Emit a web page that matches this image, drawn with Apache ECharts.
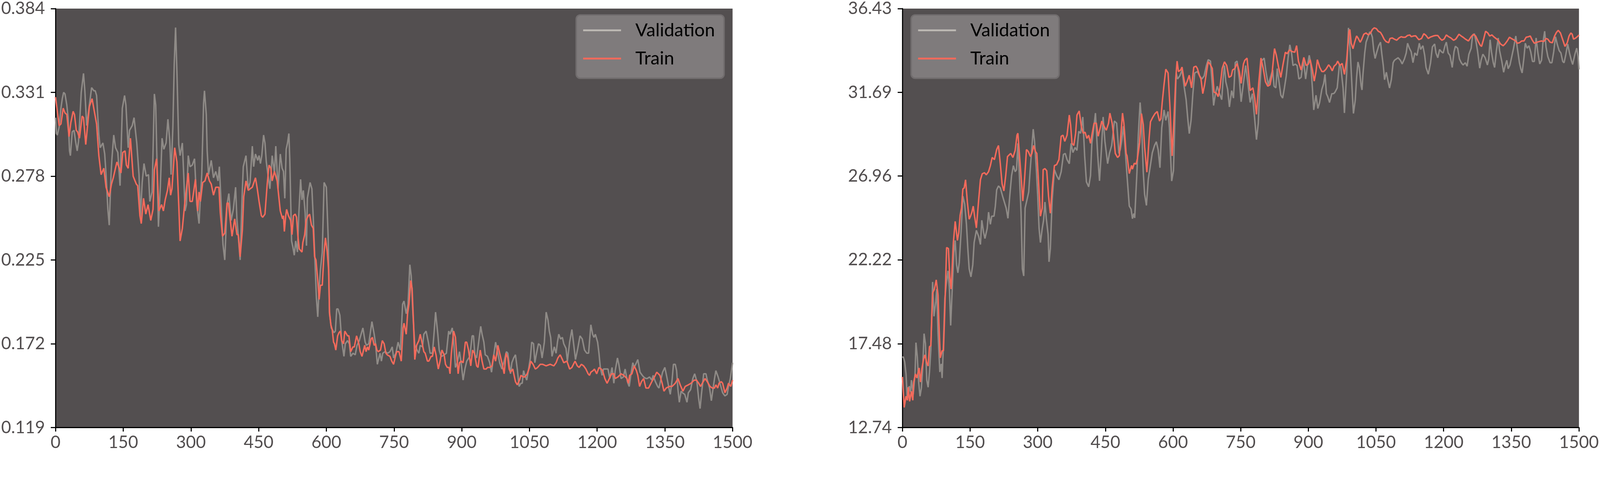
<!DOCTYPE html>
<html>
<head>
<meta charset="utf-8">
<style>
html,body{margin:0;padding:0;background:#ffffff;overflow:hidden;}
#chart{position:absolute;left:0;top:0;}
</style>
<script src="https://cdn.jsdelivr.net/npm/echarts@6/dist/echarts.min.js"></script>
</head>
<body>
<div id="chart"></div>
<script>
// ---------- tick labels ----------
const xTicks = [0,150,300,450,600,750,900,1050,1200,1350,1500];
const lossTicks = [0.119,0.172,0.225,0.278,0.331,0.384];
const accTicks = [12.74,17.48,22.22,26.96,31.69,36.43];
const seriesNames = ['Validation','Train'];

// ---------- left panel: loss  [epoch, value] ----------
const lossValidation = [[0,0.315],[2,0.305],[4,0.304],[8,0.309],[12,0.321],[15,0.327],[18,0.331],[21,0.330],[25,0.323],[28,0.315],[31,0.294],[33,0.291],[37,0.306],[41,0.307],[45,0.299],[48,0.294],[51,0.300],[54,0.315],[57,0.331],[62,0.343],[65,0.332],[69,0.310],[75,0.323],[80,0.334],[85,0.332],[88,0.332],[91,0.329],[96,0.304],[99,0.296],[105,0.299],[109,0.292],[112,0.279],[116,0.257],[119,0.247],[123,0.279],[125,0.289],[129,0.304],[133,0.296],[138,0.293],[143,0.272],[148,0.321],[153,0.329],[156,0.323],[161,0.296],[164,0.307],[170,0.310],[174,0.315],[180,0.299],[185,0.279],[188,0.252],[192,0.274],[196,0.286],[201,0.278],[206,0.279],[209,0.262],[214,0.268],[219,0.330],[222,0.323],[228,0.246],[232,0.270],[236,0.302],[240,0.295],[245,0.299],[249,0.314],[253,0.301],[256,0.279],[260,0.309],[263,0.349],[266,0.372],[269,0.344],[273,0.298],[276,0.291],[281,0.299],[284,0.279],[287,0.256],[290,0.260],[294,0.291],[298,0.284],[303,0.285],[308,0.289],[313,0.260],[318,0.248],[321,0.265],[324,0.279],[328,0.324],[330,0.332],[334,0.317],[336,0.294],[339,0.279],[345,0.288],[350,0.277],[355,0.281],[360,0.275],[363,0.284],[367,0.260],[371,0.235],[375,0.225],[380,0.260],[384,0.267],[389,0.250],[394,0.257],[399,0.271],[402,0.250],[405,0.240],[409,0.225],[414,0.270],[416,0.284],[422,0.291],[427,0.270],[431,0.274],[436,0.297],[439,0.284],[443,0.292],[448,0.288],[451,0.291],[454,0.286],[457,0.291],[461,0.304],[464,0.299],[467,0.287],[472,0.276],[475,0.270],[480,0.291],[485,0.280],[488,0.297],[493,0.270],[498,0.292],[502,0.283],[505,0.281],[508,0.264],[511,0.295],[514,0.299],[517,0.305],[519,0.289],[523,0.237],[526,0.233],[529,0.228],[532,0.237],[536,0.230],[539,0.254],[543,0.276],[546,0.263],[549,0.269],[553,0.255],[556,0.234],[558,0.264],[564,0.274],[568,0.270],[571,0.252],[574,0.230],[578,0.201],[581,0.189],[584,0.207],[587,0.219],[591,0.230],[595,0.274],[600,0.271],[604,0.240],[607,0.191],[611,0.182],[617,0.179],[620,0.180],[623,0.194],[626,0.194],[630,0.190],[634,0.174],[639,0.164],[642,0.172],[647,0.174],[651,0.172],[654,0.164],[659,0.166],[664,0.165],[668,0.171],[673,0.174],[676,0.177],[681,0.182],[686,0.173],[689,0.171],[694,0.172],[701,0.186],[706,0.178],[709,0.172],[713,0.159],[719,0.166],[722,0.161],[725,0.166],[730,0.167],[736,0.166],[741,0.167],[746,0.170],[749,0.163],[754,0.166],[759,0.173],[764,0.168],[769,0.197],[772,0.199],[777,0.191],[781,0.197],[785,0.222],[788,0.215],[792,0.190],[796,0.171],[801,0.168],[805,0.166],[808,0.171],[813,0.170],[816,0.178],[821,0.180],[826,0.173],[830,0.166],[835,0.166],[839,0.180],[842,0.192],[847,0.178],[850,0.168],[853,0.165],[856,0.164],[861,0.165],[866,0.166],[871,0.180],[874,0.178],[879,0.182],[882,0.174],[886,0.157],[890,0.160],[895,0.167],[899,0.159],[903,0.149],[907,0.156],[911,0.161],[918,0.164],[923,0.177],[926,0.177],[929,0.165],[933,0.163],[937,0.172],[942,0.183],[945,0.178],[949,0.173],[952,0.165],[957,0.164],[962,0.160],[966,0.154],[970,0.163],[975,0.173],[980,0.166],[984,0.160],[989,0.156],[994,0.161],[999,0.167],[1002,0.166],[1005,0.159],[1008,0.153],[1011,0.160],[1015,0.163],[1019,0.165],[1023,0.156],[1027,0.145],[1031,0.147],[1034,0.147],[1037,0.155],[1040,0.152],[1044,0.149],[1047,0.154],[1052,0.163],[1055,0.173],[1059,0.172],[1062,0.160],[1065,0.165],[1070,0.172],[1074,0.171],[1078,0.163],[1083,0.173],[1087,0.192],[1091,0.187],[1094,0.180],[1097,0.176],[1100,0.164],[1105,0.170],[1109,0.166],[1112,0.173],[1115,0.178],[1119,0.175],[1123,0.176],[1126,0.172],[1131,0.169],[1134,0.161],[1139,0.173],[1144,0.181],[1147,0.174],[1152,0.162],[1157,0.169],[1162,0.177],[1167,0.175],[1172,0.168],[1177,0.166],[1181,0.166],[1186,0.184],[1190,0.178],[1193,0.176],[1196,0.178],[1201,0.173],[1204,0.166],[1207,0.157],[1211,0.152],[1214,0.156],[1219,0.156],[1224,0.156],[1228,0.150],[1233,0.157],[1237,0.147],[1240,0.155],[1245,0.163],[1248,0.159],[1253,0.150],[1258,0.151],[1262,0.156],[1267,0.148],[1271,0.145],[1275,0.153],[1279,0.160],[1282,0.157],[1287,0.160],[1290,0.162],[1295,0.154],[1300,0.152],[1303,0.151],[1308,0.150],[1311,0.150],[1316,0.151],[1321,0.149],[1324,0.152],[1329,0.148],[1334,0.145],[1337,0.144],[1340,0.148],[1345,0.154],[1350,0.157],[1355,0.150],[1359,0.144],[1362,0.140],[1366,0.149],[1369,0.159],[1373,0.159],[1376,0.155],[1379,0.143],[1382,0.135],[1386,0.142],[1389,0.141],[1394,0.140],[1399,0.135],[1402,0.141],[1407,0.143],[1412,0.150],[1416,0.153],[1421,0.148],[1425,0.137],[1428,0.131],[1431,0.140],[1436,0.153],[1441,0.153],[1444,0.149],[1449,0.144],[1453,0.136],[1457,0.144],[1460,0.150],[1463,0.155],[1468,0.151],[1473,0.146],[1478,0.141],[1483,0.139],[1488,0.140],[1491,0.145],[1495,0.150],[1500,0.160]];

const lossTrain = [[0,0.328],[8,0.310],[12,0.311],[17,0.321],[21,0.318],[25,0.317],[30,0.303],[34,0.312],[39,0.319],[42,0.317],[46,0.307],[49,0.306],[53,0.302],[59,0.316],[62,0.315],[67,0.298],[75,0.322],[81,0.327],[86,0.319],[91,0.311],[96,0.291],[101,0.279],[107,0.283],[112,0.271],[119,0.265],[124,0.273],[128,0.277],[136,0.287],[140,0.284],[145,0.280],[149,0.293],[154,0.294],[157,0.285],[161,0.283],[166,0.302],[172,0.278],[179,0.273],[182,0.272],[187,0.253],[190,0.248],[195,0.264],[200,0.254],[205,0.260],[211,0.250],[216,0.257],[219,0.282],[224,0.289],[229,0.256],[235,0.260],[239,0.256],[243,0.263],[248,0.269],[252,0.277],[255,0.266],[258,0.270],[264,0.296],[269,0.287],[273,0.260],[276,0.237],[281,0.245],[286,0.260],[294,0.280],[298,0.262],[303,0.262],[310,0.276],[315,0.256],[318,0.268],[321,0.262],[326,0.274],[331,0.275],[336,0.280],[341,0.275],[345,0.273],[350,0.266],[355,0.271],[362,0.271],[365,0.255],[370,0.240],[375,0.242],[380,0.261],[383,0.261],[388,0.248],[391,0.240],[397,0.251],[402,0.241],[405,0.241],[409,0.227],[414,0.244],[417,0.265],[422,0.275],[427,0.269],[431,0.270],[436,0.271],[443,0.277],[447,0.270],[451,0.262],[456,0.253],[459,0.252],[464,0.254],[469,0.273],[473,0.285],[477,0.283],[480,0.275],[485,0.281],[491,0.275],[498,0.256],[503,0.251],[505,0.253],[507,0.243],[510,0.253],[512,0.257],[516,0.253],[521,0.250],[524,0.241],[527,0.253],[531,0.254],[534,0.252],[537,0.240],[540,0.232],[546,0.230],[548,0.236],[552,0.241],[555,0.250],[560,0.253],[563,0.254],[567,0.247],[571,0.245],[574,0.227],[577,0.225],[581,0.212],[584,0.200],[587,0.209],[591,0.209],[595,0.230],[598,0.239],[602,0.230],[605,0.219],[607,0.192],[610,0.184],[613,0.181],[616,0.173],[618,0.172],[621,0.168],[625,0.177],[628,0.179],[631,0.180],[634,0.174],[638,0.172],[641,0.180],[647,0.177],[650,0.177],[654,0.167],[659,0.170],[662,0.170],[667,0.177],[672,0.172],[675,0.167],[679,0.164],[685,0.171],[688,0.167],[691,0.170],[694,0.168],[699,0.175],[702,0.176],[706,0.171],[709,0.172],[712,0.168],[715,0.167],[720,0.168],[724,0.174],[728,0.172],[732,0.166],[735,0.165],[741,0.164],[745,0.161],[749,0.159],[753,0.164],[756,0.167],[761,0.167],[766,0.161],[770,0.182],[772,0.185],[777,0.178],[780,0.191],[783,0.197],[787,0.212],[790,0.207],[793,0.186],[796,0.162],[800,0.171],[805,0.174],[808,0.178],[811,0.174],[816,0.167],[819,0.166],[824,0.161],[827,0.161],[832,0.164],[835,0.164],[839,0.170],[843,0.165],[848,0.156],[852,0.161],[856,0.168],[861,0.165],[864,0.159],[868,0.157],[872,0.157],[874,0.153],[877,0.166],[882,0.180],[886,0.176],[889,0.164],[892,0.153],[895,0.160],[899,0.161],[903,0.160],[908,0.173],[911,0.173],[915,0.168],[920,0.158],[924,0.168],[928,0.166],[933,0.158],[936,0.157],[941,0.168],[945,0.161],[949,0.156],[954,0.156],[957,0.157],[962,0.157],[967,0.158],[971,0.165],[975,0.161],[980,0.171],[984,0.166],[989,0.160],[994,0.153],[998,0.166],[1002,0.163],[1005,0.156],[1008,0.154],[1013,0.156],[1016,0.152],[1019,0.148],[1023,0.146],[1028,0.149],[1031,0.152],[1036,0.151],[1040,0.151],[1045,0.153],[1050,0.157],[1053,0.161],[1058,0.159],[1063,0.156],[1068,0.157],[1074,0.159],[1079,0.159],[1087,0.158],[1096,0.159],[1104,0.158],[1109,0.160],[1113,0.163],[1118,0.165],[1123,0.162],[1126,0.160],[1133,0.161],[1139,0.156],[1144,0.157],[1151,0.161],[1156,0.158],[1160,0.157],[1165,0.159],[1170,0.158],[1175,0.156],[1180,0.153],[1183,0.152],[1186,0.154],[1191,0.155],[1194,0.156],[1199,0.153],[1204,0.157],[1209,0.156],[1212,0.155],[1217,0.150],[1222,0.147],[1227,0.150],[1232,0.153],[1237,0.153],[1240,0.150],[1246,0.151],[1253,0.153],[1259,0.152],[1266,0.150],[1269,0.147],[1272,0.152],[1277,0.153],[1282,0.158],[1287,0.155],[1290,0.152],[1294,0.145],[1298,0.148],[1303,0.150],[1308,0.144],[1314,0.144],[1321,0.148],[1327,0.151],[1332,0.154],[1339,0.152],[1344,0.147],[1348,0.142],[1353,0.144],[1360,0.145],[1366,0.145],[1373,0.147],[1379,0.150],[1384,0.146],[1390,0.142],[1395,0.145],[1402,0.146],[1408,0.147],[1415,0.149],[1420,0.149],[1425,0.147],[1429,0.145],[1433,0.147],[1439,0.150],[1444,0.148],[1450,0.145],[1455,0.144],[1460,0.144],[1463,0.146],[1467,0.144],[1470,0.147],[1475,0.148],[1478,0.147],[1483,0.141],[1488,0.144],[1491,0.147],[1496,0.145],[1500,0.149]];

// ---------- right panel: accuracy  [epoch, value] ----------
const accValidation = [[0,16.70],[2,16.74],[5,16.45],[8,15.77],[11,14.28],[15,15.08],[18,14.74],[20,15.42],[24,14.62],[28,15.77],[30,17.54],[33,16.74],[36,15.31],[39,14.51],[42,14.97],[45,16.11],[48,18.05],[51,17.48],[54,15.42],[57,15.02],[60,15.88],[63,17.14],[67,20.97],[70,19.03],[74,19.88],[76,20.57],[79,18.05],[83,15.88],[86,16.34],[88,15.54],[91,17.48],[94,20.00],[97,20.80],[101,21.60],[104,20.69],[107,18.51],[110,20.34],[114,22.63],[117,23.32],[120,21.94],[123,21.49],[126,22.06],[130,23.77],[134,25.83],[138,25.38],[142,24.23],[145,22.86],[148,21.71],[152,21.26],[156,21.94],[159,23.20],[164,23.89],[169,23.55],[173,23.09],[176,24.46],[180,23.77],[183,23.43],[188,24.00],[191,24.92],[195,24.23],[198,24.69],[203,24.69],[206,25.26],[209,26.18],[213,26.40],[217,26.29],[222,25.83],[226,25.49],[230,25.15],[234,24.57],[238,25.83],[242,26.98],[246,27.55],[250,27.21],[253,27.32],[256,28.81],[259,27.21],[263,24.92],[266,21.71],[269,21.31],[272,25.15],[276,25.60],[280,26.06],[283,27.21],[287,28.58],[290,29.61],[293,28.92],[297,27.32],[300,25.83],[303,24.00],[306,23.20],[310,24.00],[313,24.46],[316,25.49],[319,24.57],[323,23.66],[325,22.11],[328,22.86],[332,25.60],[337,27.32],[342,26.98],[347,26.75],[352,27.21],[357,28.18],[361,28.24],[365,27.89],[370,27.66],[374,28.81],[378,28.29],[383,28.58],[387,28.41],[391,29.49],[395,29.38],[400,30.30],[404,28.12],[408,26.63],[413,26.35],[417,26.98],[420,28.81],[424,29.61],[428,30.52],[433,28.12],[437,26.69],[441,28.35],[445,30.30],[449,28.92],[455,27.66],[459,28.24],[464,28.69],[470,30.07],[475,29.95],[480,28.24],[483,28.46],[486,28.92],[490,29.78],[494,28.46],[498,26.98],[503,25.26],[507,25.09],[510,24.55],[513,24.84],[515,24.59],[520,27.18],[523,29.28],[527,31.12],[530,30.11],[534,27.18],[537,25.93],[541,25.30],[545,26.76],[549,27.43],[554,28.27],[559,28.69],[563,28.90],[567,28.44],[571,27.43],[575,29.69],[580,30.70],[584,30.11],[589,30.61],[592,29.69],[594,28.44],[597,26.68],[601,27.27],[604,30.11],[607,32.79],[610,32.45],[615,32.62],[620,32.96],[625,31.95],[629,31.28],[633,30.11],[636,29.36],[640,30.11],[644,31.62],[648,32.79],[654,32.87],[659,32.62],[664,32.45],[669,32.62],[674,33.21],[678,33.54],[683,33.46],[687,32.12],[690,30.95],[694,31.62],[698,32.04],[703,31.62],[708,31.28],[711,32.45],[714,33.21],[717,32.29],[721,31.87],[725,30.87],[730,31.79],[734,31.37],[738,33.38],[742,33.46],[747,32.45],[751,31.16],[756,32.20],[761,33.21],[766,32.20],[771,31.12],[776,31.62],[781,30.20],[785,29.02],[789,29.94],[792,31.79],[796,33.46],[802,33.63],[806,32.87],[811,32.12],[816,32.54],[821,32.96],[824,32.04],[828,31.95],[831,33.04],[835,32.29],[839,31.53],[843,31.37],[847,31.95],[851,32.62],[855,33.63],[859,34.38],[863,33.88],[866,33.21],[871,33.29],[875,33.21],[879,32.45],[884,32.54],[889,33.54],[894,32.45],[898,33.21],[902,33.79],[905,33.38],[909,31.95],[912,30.70],[917,31.53],[921,30.78],[925,31.12],[930,31.87],[934,32.20],[937,32.71],[940,31.62],[943,31.45],[947,31.12],[952,31.62],[956,31.62],[959,31.70],[964,31.95],[969,33.29],[972,33.12],[977,31.95],[980,30.53],[985,32.79],[989,35.34],[993,33.96],[998,31.37],[1000,30.50],[1004,31.25],[1007,32.55],[1010,33.41],[1013,33.10],[1017,32.07],[1019,31.83],[1021,32.69],[1025,33.92],[1028,34.53],[1031,34.74],[1036,35.11],[1039,35.05],[1042,34.81],[1045,34.06],[1048,33.61],[1052,33.99],[1056,34.33],[1060,34.53],[1063,33.85],[1066,33.24],[1069,32.41],[1073,32.83],[1076,32.41],[1080,31.94],[1084,32.41],[1088,33.37],[1091,33.51],[1095,33.58],[1099,33.65],[1104,33.51],[1108,33.30],[1113,33.58],[1117,33.92],[1120,34.47],[1124,34.19],[1128,33.99],[1132,33.37],[1136,33.92],[1141,33.78],[1146,34.47],[1149,34.12],[1154,34.33],[1158,33.78],[1161,33.10],[1166,32.72],[1171,33.37],[1175,34.26],[1180,34.43],[1183,33.92],[1187,33.65],[1191,34.12],[1195,33.99],[1199,33.92],[1203,34.33],[1206,34.53],[1210,33.92],[1214,33.78],[1219,33.10],[1223,33.99],[1226,34.30],[1231,34.19],[1235,33.58],[1239,33.37],[1243,33.24],[1248,33.37],[1252,33.17],[1256,33.85],[1261,34.19],[1264,34.88],[1268,35.01],[1271,34.67],[1275,34.06],[1280,33.06],[1283,33.51],[1287,33.85],[1292,33.65],[1297,33.24],[1300,33.58],[1303,34.67],[1306,33.99],[1310,33.37],[1313,33.10],[1317,34.06],[1321,34.77],[1324,34.06],[1329,33.44],[1333,32.83],[1336,33.17],[1340,33.51],[1343,33.03],[1347,33.24],[1351,33.71],[1355,34.19],[1360,34.88],[1363,34.26],[1368,33.37],[1371,33.03],[1374,32.79],[1378,33.65],[1381,34.47],[1385,34.19],[1389,34.33],[1393,33.99],[1397,33.44],[1401,33.44],[1405,34.77],[1409,33.92],[1413,33.30],[1417,33.51],[1420,34.47],[1424,35.15],[1427,34.26],[1431,33.71],[1436,33.37],[1440,33.37],[1444,33.99],[1448,34.84],[1452,34.40],[1456,34.06],[1460,33.92],[1464,33.44],[1467,33.37],[1471,33.85],[1475,34.43],[1479,33.92],[1483,33.51],[1486,33.27],[1491,33.85],[1495,34.19],[1498,33.71],[1500,32.99]];

const accTrain = [[0,15.60],[4,13.88],[8,14.51],[11,14.28],[13,15.02],[16,14.22],[20,14.79],[23,14.28],[25,15.31],[29,15.77],[32,15.54],[37,16.11],[40,15.31],[43,16.05],[47,16.62],[50,16.85],[54,16.40],[57,16.22],[60,17.31],[63,17.37],[67,20.34],[71,20.57],[75,21.09],[79,20.23],[81,18.63],[84,16.68],[88,17.08],[91,17.08],[94,19.43],[98,22.92],[102,22.86],[105,21.26],[108,20.57],[113,23.20],[117,24.40],[122,23.32],[125,23.77],[128,24.75],[131,25.15],[134,26.23],[137,26.29],[140,26.75],[144,25.49],[148,24.52],[151,24.69],[154,24.92],[157,25.26],[160,24.69],[164,24.03],[169,25.60],[173,26.75],[177,27.09],[182,27.15],[186,27.03],[191,27.21],[195,27.55],[199,28.01],[204,27.89],[209,28.46],[213,28.69],[217,27.66],[221,26.52],[225,26.12],[229,26.98],[233,28.06],[240,28.24],[245,28.01],[250,28.41],[254,29.27],[256,29.38],[259,28.35],[263,26.98],[267,25.55],[271,26.86],[275,28.46],[279,28.35],[284,28.06],[287,28.24],[291,28.69],[295,28.35],[298,28.24],[301,26.98],[306,24.69],[310,25.15],[312,27.32],[316,27.38],[320,27.26],[324,25.83],[328,24.86],[332,26.29],[337,27.55],[342,27.61],[347,27.89],[352,29.21],[356,29.27],[360,28.92],[365,29.27],[370,30.41],[373,29.84],[376,28.81],[380,28.69],[384,29.38],[387,30.41],[392,30.64],[397,29.72],[401,29.38],[405,29.44],[409,29.09],[413,29.27],[417,28.81],[420,29.27],[425,29.95],[430,29.95],[434,29.21],[439,29.72],[442,30.07],[447,29.78],[452,29.55],[457,29.95],[460,30.52],[465,29.95],[468,29.32],[472,28.24],[477,28.01],[481,28.12],[485,29.49],[488,30.52],[491,29.95],[496,28.24],[498,28.10],[503,27.10],[508,27.56],[510,27.35],[514,27.68],[518,27.64],[521,27.94],[526,28.86],[530,30.49],[534,29.86],[537,28.60],[542,27.18],[547,29.11],[550,30.03],[555,30.28],[560,30.49],[565,30.61],[570,30.07],[573,30.20],[576,31.12],[580,32.12],[584,33.00],[589,32.79],[593,30.95],[596,29.28],[598,28.10],[602,30.11],[606,32.45],[609,33.46],[612,32.87],[617,32.96],[620,33.12],[623,32.62],[627,32.04],[631,32.29],[636,32.66],[641,31.95],[646,33.12],[651,33.17],[654,33.04],[659,32.62],[662,32.45],[666,31.62],[670,32.12],[675,32.96],[678,33.42],[682,33.29],[687,33.04],[691,31.70],[696,31.66],[700,31.45],[704,31.95],[709,33.04],[714,33.42],[719,33.21],[724,32.54],[729,32.62],[732,32.96],[737,33.04],[742,33.33],[747,32.87],[751,32.20],[756,33.29],[759,33.50],[764,33.63],[768,32.62],[771,31.79],[777,31.95],[781,31.37],[785,30.45],[790,32.20],[795,33.63],[800,33.04],[805,32.29],[810,32.04],[815,32.12],[819,32.62],[825,34.17],[829,33.79],[834,33.12],[839,32.54],[844,33.29],[849,33.96],[853,33.88],[858,34.09],[864,34.00],[870,33.96],[874,34.34],[878,33.46],[884,32.96],[890,33.67],[895,33.21],[900,33.29],[904,33.54],[909,32.96],[913,32.33],[917,32.87],[920,33.54],[925,33.12],[930,32.87],[934,32.87],[939,33.00],[945,33.25],[949,33.12],[953,32.91],[957,33.17],[962,33.29],[965,33.46],[970,33.21],[975,33.33],[980,32.71],[985,33.54],[990,35.13],[992,35.25],[995,34.47],[999,34.16],[1002,34.47],[1007,34.88],[1010,34.77],[1015,34.53],[1018,34.67],[1023,34.98],[1028,35.05],[1033,34.94],[1038,35.05],[1042,35.25],[1046,35.34],[1051,35.29],[1055,35.15],[1060,35.08],[1064,34.91],[1068,34.70],[1072,34.57],[1078,34.50],[1081,34.74],[1086,34.77],[1091,34.70],[1096,34.64],[1101,34.77],[1106,34.84],[1110,34.81],[1115,34.81],[1120,34.91],[1125,34.94],[1128,34.84],[1133,34.88],[1138,34.89],[1145,34.67],[1151,34.74],[1156,35.01],[1161,34.91],[1166,34.74],[1170,34.81],[1177,34.88],[1182,34.91],[1187,34.91],[1192,34.74],[1196,34.64],[1201,34.71],[1206,34.94],[1211,34.84],[1216,34.77],[1222,34.64],[1227,34.71],[1234,34.98],[1239,34.88],[1243,34.81],[1248,34.71],[1255,34.60],[1261,34.84],[1266,34.98],[1271,34.88],[1276,34.60],[1281,34.36],[1284,34.29],[1289,34.74],[1293,35.15],[1298,35.05],[1302,34.88],[1307,34.94],[1311,34.84],[1316,34.74],[1321,34.64],[1326,34.43],[1332,34.33],[1336,34.43],[1341,34.60],[1346,34.81],[1350,34.74],[1355,34.67],[1360,34.60],[1363,34.47],[1368,34.50],[1373,34.60],[1378,34.60],[1383,34.81],[1388,34.84],[1392,34.88],[1396,34.67],[1401,34.47],[1407,34.53],[1412,34.57],[1417,34.60],[1422,34.57],[1427,34.74],[1431,34.70],[1436,34.53],[1441,34.50],[1446,34.88],[1450,35.08],[1454,35.20],[1459,35.05],[1464,34.67],[1469,34.29],[1474,34.50],[1478,34.88],[1482,35.05],[1485,34.98],[1488,34.70],[1493,34.77],[1498,34.88],[1500,34.94]];

// ---------- styling ----------
const FONT = 'Lato';
const LABEL_COLOR = '#524e4f';
const PLOT_BG = '#534f50';
const VAL_COLOR = '#8f8b87';
const VAL_LEGEND_COLOR = '#bcb8b3';
const TRAIN_COLOR = '#f46a5b';

// layout is designed for a 4390x1239 page; scale to the real viewport
const VW = window.innerWidth, VH = window.innerHeight;
const S = Math.min(VW / 4390, VH / 1239);
const p = v => v * S;

const el = document.getElementById('chart');
el.style.width = VW + 'px';
el.style.height = VH + 'px';

function xAxisCfg(gridIndex){
  return {
    type:'value', gridIndex, min:0, max:1500, interval:150,
    axisLine:{show:true, onZero:false, lineStyle:{color:'#000', width:p(3)}},
    axisTick:{show:true, length:p(11), lineStyle:{color:'#000', width:p(3)}},
    axisLabel:{show:true, color:LABEL_COLOR, fontFamily:FONT, fontSize:p(47), margin:p(18),
      formatter:v=>String(v)},
    splitLine:{show:false}
  };
}
function yAxisCfg(gridIndex, ticks, digits){
  return {
    type:'value', gridIndex, min:ticks[0], max:ticks[ticks.length-1],
    axisLine:{show:true, onZero:false, lineStyle:{color:'#000', width:p(3)}},
    axisTick:{show:true, length:p(13), lineStyle:{color:'#000', width:p(3)}, customValues:ticks},
    axisLabel:{show:true, color:LABEL_COLOR, fontFamily:FONT, fontSize:p(47), margin:p(29),
      customValues:ticks, formatter:v=>Number(v).toFixed(digits)},
    splitLine:{show:false}
  };
}
function legendCfg(left){
  return {
    orient:'vertical', left:p(left), top:p(41),
    data:[{name:seriesNames[0], itemStyle:{color:VAL_LEGEND_COLOR}}, {name:seriesNames[1]}],
    icon:'rect', itemWidth:p(104), itemHeight:p(5), itemGap:p(27),
    backgroundColor:'#7f7b7c', borderColor:'#716d6e', borderWidth:p(4), borderRadius:p(11),
    padding:[p(17),p(25),p(29),p(19)],
    textStyle:{fontFamily:FONT, fontSize:p(50), color:'#000', lineHeight:p(50), padding:[0,0,0,p(34)]}
  };
}
function lineSeries(name, data, axisIdx, color, z){
  return {
    name, type:'line', data, xAxisIndex:axisIdx, yAxisIndex:axisIdx,
    showSymbol:false, symbol:'none', smooth:false, z,
    lineStyle:{color, width:p(4)}, itemStyle:{color}
  };
}

const chart = echarts.init(el, null, {renderer:'canvas'});
chart.setOption({
  animation:false,
  backgroundColor:'#ffffff',
  grid:[
    {left:p(151), top:p(17), width:p(1859), height:p(1156), show:true, backgroundColor:PLOT_BG, borderWidth:0},
    {left:p(2476), top:p(17), width:p(1860), height:p(1156), show:true, backgroundColor:PLOT_BG, borderWidth:0}
  ],
  xAxis:[xAxisCfg(0), xAxisCfg(1)],
  yAxis:[yAxisCfg(0, lossTicks, 3), yAxisCfg(1, accTicks, 2)],
  legend:[legendCfg(1581), legendCfg(2500)],
  series:[
    lineSeries(seriesNames[0], lossValidation, 0, VAL_COLOR, 2),
    lineSeries(seriesNames[1], lossTrain, 0, TRAIN_COLOR, 3),
    lineSeries(seriesNames[0], accValidation, 1, VAL_COLOR, 2),
    lineSeries(seriesNames[1], accTrain, 1, TRAIN_COLOR, 3)
  ]
});
</script>
</body>
</html>
